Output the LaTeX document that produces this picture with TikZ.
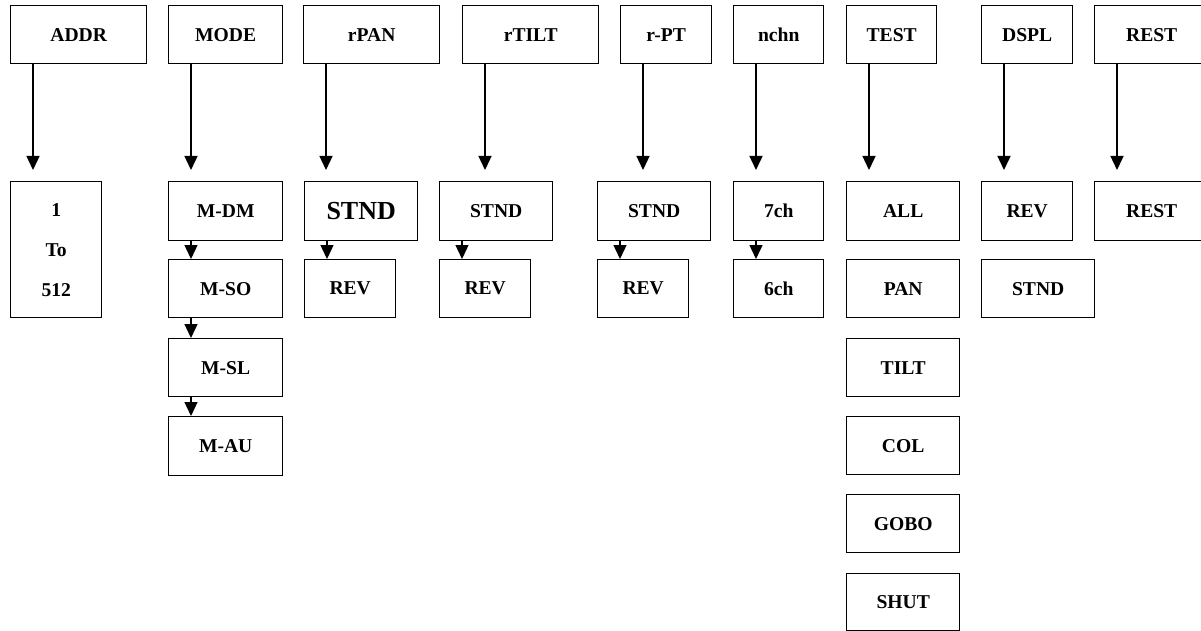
\documentclass[tikz,border=0pt]{standalone}
\usepackage{fontspec}
\setmainfont{Liberation Serif}
\usetikzlibrary{arrows.meta}
\tikzset{
  box/.style={draw, line width=1.4pt, anchor=north west, inner sep=0pt,
    font=\fontsize{19.6}{40}\selectfont\bfseries, align=center},
  arr/.style={line width=1.4pt, -{Triangle[length=14pt,width=13pt]}},
  toparr/.style={arr, shorten >=11pt},
}
\begin{document}
\begin{tikzpicture}[x=1pt,y=-1pt]
\useasboundingbox (0,0) rectangle (1201,631);
\clip (0,0) rectangle (1201,631);
% top row
\node[box, minimum width=136, minimum height=58] (addr) at (10,5) {ADDR};
\node[box, minimum width=114, minimum height=58] (mode) at (168,5) {MODE};
\node[box, minimum width=136, minimum height=58] (rpan) at (303,5) {rPAN};
\node[box, minimum width=136, minimum height=58] (rtilt) at (462,5) {rTILT};
\node[box, minimum width=91, minimum height=58] (rpt) at (620,5) {r-PT};
\node[box, minimum width=90, minimum height=58] (nchn) at (733,5) {nchn};
\node[box, minimum width=90, minimum height=58] (test) at (846,5) {TEST};
\node[box, minimum width=91, minimum height=58] (dspl) at (981,5) {DSPL};
\node[box, minimum width=114, minimum height=58] (rest) at (1094,5) {REST};
% ADDR
\node[box, minimum width=91, minimum height=136] (range) at (10,181) {1\\To\\512};
% MODE
\node[box, minimum width=114, minimum height=59] (mdm) at (168,181) {M-DM};
\node[box, minimum width=114, minimum height=58] (mso) at (168,259) {M-SO};
\node[box, minimum width=114, minimum height=58] (msl) at (168,338) {M-SL};
\node[box, minimum width=114, minimum height=59] (mau) at (168,416) {M-AU};
% rPAN
\node[box, minimum width=113, minimum height=59, font=\fontsize{26}{30}\selectfont\bfseries] (pstnd) at (304,181) {STND};
\node[box, minimum width=91, minimum height=58] (prev) at (304,259) {REV};
% rTILT
\node[box, minimum width=113, minimum height=59] (tstnd) at (439,181) {STND};
\node[box, minimum width=91, minimum height=58] (trev) at (439,259) {REV};
% r-PT
\node[box, minimum width=113, minimum height=59] (ptstnd) at (597,181) {STND};
\node[box, minimum width=91, minimum height=58] (ptrev) at (597,259) {REV};
% nchn
\node[box, minimum width=90, minimum height=59] (c7) at (733,181) {7ch};
\node[box, minimum width=90, minimum height=58] (c6) at (733,259) {6ch};
% TEST
\node[box, minimum width=113, minimum height=59] (tall) at (846,181) {ALL};
\node[box, minimum width=113, minimum height=58] (tpan) at (846,259) {PAN};
\node[box, minimum width=113, minimum height=58] (ttilt) at (846,338) {TILT};
\node[box, minimum width=113, minimum height=58] (tcol) at (846,416) {COL};
\node[box, minimum width=113, minimum height=58] (tgobo) at (846,494) {GOBO};
\node[box, minimum width=113, minimum height=57] (tshut) at (846,573) {SHUT};
% DSPL
\node[box, minimum width=91, minimum height=59] (drev) at (981,181) {REV};
\node[box, minimum width=113, minimum height=58] (dstnd) at (981,259) {STND};
% REST
\node[box, minimum width=114, minimum height=59] (rrest) at (1094,181) {REST};
% top arrows
\foreach \a/\b in {addr/range, mode/mdm, rpan/pstnd, rtilt/tstnd, rpt/ptstnd, nchn/c7, test/tall, dspl/drev, rest/rrest}
  \draw[toparr] ([xshift=23pt]\a.south west) -- ([xshift=23pt]\a.south west |- \b.north);
% inner arrows
\foreach \a/\b in {mdm/mso, mso/msl, msl/mau, pstnd/prev, tstnd/trev, ptstnd/ptrev, c7/c6}
  \draw[arr] ([xshift=23pt]\a.south west) -- ([xshift=23pt]\b.north west);
\end{tikzpicture}
\end{document}
